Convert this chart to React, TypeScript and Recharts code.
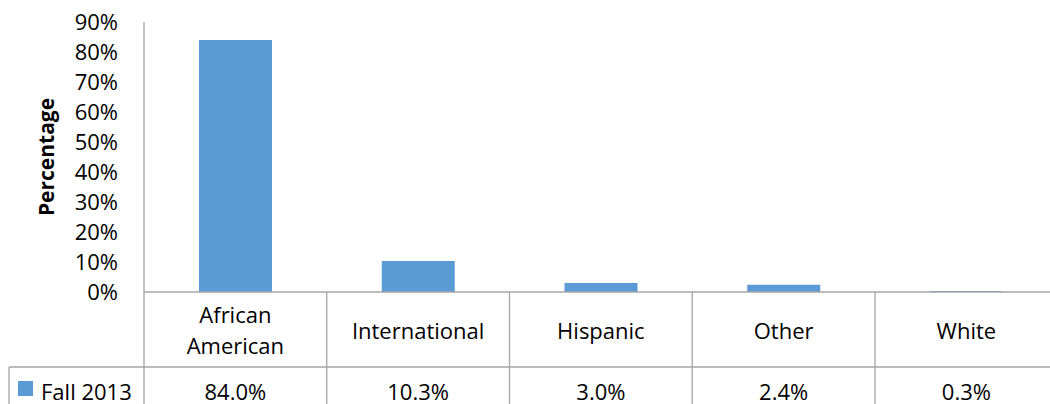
import { Bar, BarChart, Customized, XAxis, YAxis } from 'recharts';

const CATEGORIES = ['African American', 'International', 'Hispanic', 'Other', 'White'];
const FALL_2013 = [84.0, 10.3, 3.0, 2.4, 0.3];
const SERIES_NAME = 'Fall 2013';
const Y_TICKS = [0, 10, 20, 30, 40, 50, 60, 70, 80, 90];

const data = CATEGORIES.map((name, i) => ({ name, fall2013: FALL_2013[i] }));

const FONT = '"Open Sans", sans-serif';
const GRID = '#A6A6A6';
const BAR = '#5B9BD5';

const CHART_W = 1070;
const CHART_H = 404;
const PLOT_LEFT = 144;
const PLOT_TOP = 22;
const AXIS_Y = 292;
const CELL_W = 182.75;
const ROW_Y = 367;
const PLOT_W = CELL_W * CATEGORIES.length;

function TableTick(props: any) {
  const { x, payload, index } = props;
  const left = x - CELL_W / 2;
  const lines: string[] = String(payload.value).split(' ');
  const last = index === CATEGORIES.length - 1;
  const lineH = 31;
  const midY = (AXIS_Y + ROW_Y) / 2;
  return (
    <g>
      <line x1={left} x2={left} y1={AXIS_Y} y2={CHART_H} stroke={GRID} strokeWidth={1.3} />
      {last && (
        <line x1={left + CELL_W} x2={left + CELL_W} y1={AXIS_Y} y2={CHART_H} stroke={GRID} strokeWidth={1.3} />
      )}
      <line x1={left} x2={left + CELL_W} y1={ROW_Y} y2={ROW_Y} stroke={GRID} strokeWidth={1.3} />
      {lines.map((ln, i) => (
        <text
          key={ln}
          x={x}
          y={midY + (i - (lines.length - 1) / 2) * lineH}
          textAnchor="middle"
          dominantBaseline="central"
          fontFamily={FONT}
          fontSize={22}
          fill="#000"
        >
          {ln}
        </text>
      ))}
      <text
        x={x}
        y={(ROW_Y + CHART_H) / 2 + 5}
        textAnchor="middle"
        dominantBaseline="central"
        fontFamily={FONT}
        fontSize={22}
        fill="#000"
      >
        {`${FALL_2013[index].toFixed(1)}%`}
      </text>
    </g>
  );
}

function LegendCell() {
  return (
    <g>
      <line x1={9} x2={PLOT_LEFT} y1={ROW_Y} y2={ROW_Y} stroke={GRID} strokeWidth={1.3} />
      <line x1={9} x2={9} y1={ROW_Y} y2={CHART_H} stroke={GRID} strokeWidth={1.3} />
      <rect x={18} y={381} width={15} height={15} fill={BAR} />
      <text
        x={41}
        y={(ROW_Y + CHART_H) / 2 + 5}
        dominantBaseline="central"
        fontFamily={FONT}
        fontSize={22}
        fill="#000"
      >
        {SERIES_NAME}
      </text>
      <text
        transform={`translate(46 ${(PLOT_TOP + AXIS_Y) / 2}) rotate(-90)`}
        textAnchor="middle"
        dominantBaseline="central"
        fontFamily={FONT}
        fontSize={21}
        fontWeight="bold"
        fill="#000"
      >
        Percentage
      </text>
    </g>
  );
}

export default function App() {
  return (
    <div
      style={{
        position: 'absolute',
        left: 0,
        top: 0,
        width: 1050,
        height: 404,
        overflow: 'hidden',
        background: '#fff',
      }}
    >
      <BarChart
        width={CHART_W}
        height={CHART_H}
        data={data}
        margin={{ top: PLOT_TOP, right: CHART_W - PLOT_LEFT - PLOT_W, bottom: 0, left: PLOT_LEFT - 60 }}
      >
        <XAxis
          dataKey="name"
          height={CHART_H - AXIS_Y}
          interval={0}
          tickLine={false}
          axisLine={{ stroke: GRID, strokeWidth: 1.3 }}
          tick={<TableTick />}
        />
        <YAxis
          width={60}
          domain={[0, 90]}
          ticks={Y_TICKS}
          interval={0}
          tickLine={false}
          tickSize={0}
          tickMargin={26}
          axisLine={{ stroke: GRID, strokeWidth: 1.3 }}
          tickFormatter={(v) => `${v}%`}
          tick={{ fontFamily: FONT, fontSize: 22, fill: '#000' }}
        />
        <Bar dataKey="fall2013" name={SERIES_NAME} fill={BAR} barSize={73} isAnimationActive={false} />
        <Customized component={LegendCell} />
      </BarChart>
    </div>
  );
}
